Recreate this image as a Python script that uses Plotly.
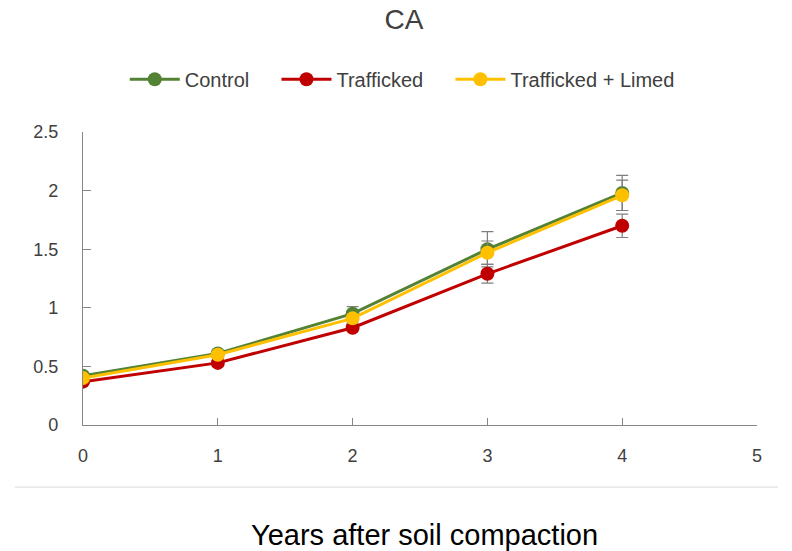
import plotly.graph_objects as go

years = [0, 1, 2, 3, 4]
control = [0.42, 0.61, 0.95, 1.50, 1.98]
control_err = [0.03, 0.03, 0.06, 0.15, 0.15]
trafficked = [0.37, 0.53, 0.83, 1.29, 1.70]
trafficked_err = [0.02, 0.02, 0.03, 0.08, 0.10]
limed = [0.40, 0.60, 0.91, 1.47, 1.96]
limed_err = [0.02, 0.03, 0.04, 0.10, 0.13]

series = [
    ("Control", control, control_err, "#548235"),
    ("Trafficked", trafficked, trafficked_err, "#C00000"),
    ("Trafficked + Limed", limed, limed_err, "#FFC000"),
]

fig = go.Figure()
for name, vals, err, col in series:
    fig.add_trace(go.Scatter(
        x=years, y=vals, name=name + "    ", mode="lines+markers",
        line=dict(color=col, width=3),
        marker=dict(color=col, size=14),
        error_y=dict(type="data", array=err, visible=True, color="#7f7f7f", thickness=1.2, width=6),
    ))

tick_font = dict(family="Liberation Sans, Arial", size=18, color="#404040")

fig.update_layout(
    width=792, height=551,
    margin=dict(l=83, r=35, t=132, b=126),
    plot_bgcolor="white", paper_bgcolor="white",
    title=dict(text="CA", x=0.51, xanchor="center", y=0.965, yanchor="middle",
               font=dict(family="Liberation Sans, Arial", size=28, color="#404040")),
    legend=dict(orientation="h", x=0.49, xanchor="center", y=1.18, yanchor="middle",
                font=dict(family="Liberation Sans, Arial", size=20, color="#404040"),
                itemwidth=50, traceorder="normal"),
    xaxis=dict(range=[0, 5], tickvals=[0, 1, 2, 3, 4, 5], showgrid=False, zeroline=False,
               showline=True, linecolor="#868686", linewidth=1.2,
               ticks="inside", ticklen=7, tickcolor="#868686",
               ticklabelstandoff=14, tickfont=tick_font),
    yaxis=dict(range=[0, 2.5], tickvals=[0, 0.5, 1, 1.5, 2, 2.5], ticktext=["0", "0.5", "1", "1.5", "2", "2.5"],
               showgrid=False, zeroline=False,
               showline=True, linecolor="#868686", linewidth=1.2,
               ticks="inside", ticklen=8, tickcolor="#868686",
               ticklabelstandoff=20, tickfont=tick_font),
    shapes=[dict(type="line", xref="paper", yref="paper", x0=-0.101, x1=1.031, y0=-0.212, y1=-0.212,
                 line=dict(color="#d9d9d9", width=1))],
    annotations=[dict(text="Years after soil compaction", xref="paper", yref="paper", x=0.507, y=-0.375,
                      xanchor="center", yanchor="middle", showarrow=False,
                      font=dict(family="Liberation Sans, Arial", size=29, color="black"))],
)

fig.write_html("out.html")
